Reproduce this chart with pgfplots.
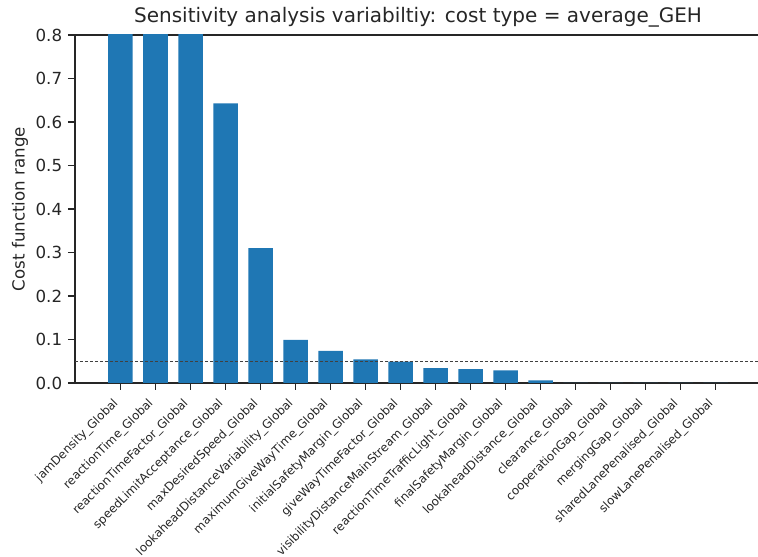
\documentclass[border=0pt]{standalone}
\usepackage{pgfplots}
\pgfplotsset{compat=1.18}
\usepackage{pgfplotstable}
\usepackage{fontspec}
\setmainfont{DejaVu Sans}
\definecolor{barblue}{HTML}{1F77B4}
\definecolor{spine}{HTML}{262626}

% cost function range per parameter, sorted
\pgfplotstableread{
idx  range
0    1.50
1    1.20
2    0.95
3    0.643
4    0.310
5    0.099
6    0.074
7    0.054
8    0.049
9    0.034
10   0.032
11   0.029
12   0.006
13   0
14   0
15   0
16   0
17   0
}\rangedata

\begin{document}
\begin{tikzpicture}
\begin{axis}[
  name=ax,
  scale only axis,
  width=411.6pt, height=208.8pt,
  xmin=-1.3, xmax=18.3,
  ymin=0, ymax=0.8,
  xtick={0,1,2,3,4,5,6,7,8,9,10,11,12,13,14,15,16,17},
  xticklabels={
    jamDensity\_Global,
    reactionTime\_Global,
    reactionTimeFactor\_Global,
    speedLimitAcceptance\_Global,
    maxDesiredSpeed\_Global,
    lookaheadDistanceVariability\_Global,
    maximumGiveWayTime\_Global,
    initialSafetyMargin\_Global,
    giveWayTimeFactor\_Global,
    visibilityDistanceMainStream\_Global,
    reactionTimeTrafficLight\_Global,
    finalSafetyMargin\_Global,
    lookaheadDistance\_Global,
    clearance\_Global,
    cooperationGap\_Global,
    mergingGap\_Global,
    sharedLanePenalised\_Global,
    slowLanePenalised\_Global},
  ytick={0,0.1,0.2,0.3,0.4,0.5,0.6,0.7,0.8},
  /pgf/number format/assume math mode=true,
  yticklabel style={/pgf/number format/fixed, /pgf/number format/fixed zerofill, /pgf/number format/precision=1},
  tick align=outside,
  xtick pos=left, ytick pos=left,
  major tick length=4.2pt,
  tick style={line width=0.8pt, spine},
  axis line style={line width=0.8pt, spine},
  x tick label style={yshift=-4.5pt, rotate=45, anchor=east, font=\fontsize{7.1}{8}\selectfont, color=spine},
  y tick label style={font=\fontsize{10}{12}\selectfont, color=spine},
  ylabel={Cost function range},
  ylabel style={font=\fontsize{10}{12}\selectfont, color=spine, yshift=-2.4pt},
  title={Sensitivity analysis variabiltiy: cost type = average\_GEH},
  title style={font=\fontsize{12}{14}\selectfont, color=spine, yshift=-4.8pt},
]
\addplot[ybar, bar width=0.7, fill=barblue, draw=none] table[x=idx, y=range] {\rangedata};
% threshold line
\addplot[line width=0.7pt, black!75, dash pattern=on 2pt off 1pt] coordinates {(-1.3,0.05) (18.3,0.05)};
\end{axis}
\pgfresetboundingbox
\path[use as bounding box] ([shift={(-45pt,-104.4pt)}]ax.south west) rectangle ([shift={(409.8pt,21pt)}]ax.north west);
\end{tikzpicture}
\end{document}
